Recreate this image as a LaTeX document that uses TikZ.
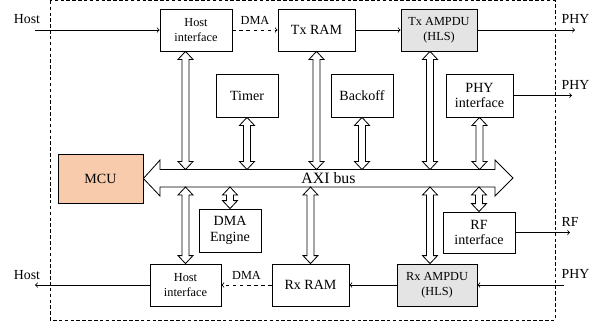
\documentclass[tikz,border=0pt]{standalone}
\usepackage{fontspec}
\setmainfont{Liberation Serif}
\usetikzlibrary{calc,positioning}

\newlength\pxl
\setlength\pxl{0.03cm}

\definecolor{mcuorange}{RGB}{248,203,173}
\definecolor{hlsgray}{RGB}{228,228,228}

\tikzset{
  blk/.style={draw, align=center, inner sep=1pt, minimum height=42\pxl,
    font=\fontsize{12}{13.5}\selectfont},
  smallblk/.style={blk, font=\fontsize{10.5}{12.8}\selectfont},
  hls/.style={smallblk, fill=hlsgray},
  lbl/.style={font=\fontsize{11.8}{13}\selectfont, inner sep=0pt},
  dmalbl/.style={font=\fontsize{10.5}{12}\selectfont, inner sep=0pt}
}

% hollow double arrow between a block and the bus
\newcommand{\busarrow}[2]{%
  \draw[fill=white] (#1) -- ($(#1)+(7.5,8)$) -- ($(#1)+(3.5,8)$)
    -- ($(#2)+(3.5,-8)$) -- ($(#2)+(7.5,-8)$) -- (#2)
    -- ($(#2)+(-7.5,-8)$) -- ($(#2)+(-3.5,-8)$)
    -- ($(#1)+(-3.5,8)$) -- ($(#1)+(-7.5,8)$) -- cycle;}

\begin{document}
\begin{tikzpicture}[x=0.03cm, y=-0.03cm, line width=0.7pt, >=To]

\useasboundingbox (0,0) rectangle (601,322);

% chip border
\draw[dash pattern=on 3pt off 2pt, line width=0.6pt] (50,0.8) rectangle (555,320);

% blocks
\node[smallblk, minimum width=72\pxl] (hifT) at (196,30) {Host\\interface};
\node[blk, minimum width=77\pxl] (txram) at (316.5,30) {Tx RAM};
\node[hls, minimum width=76\pxl] (txamp) at (439,30) {Tx AMPDU\\(HLS)};

\node[blk, minimum width=62\pxl, minimum height=43\pxl] (timer) at (247,95.5) {Timer};
\node[blk, minimum width=62\pxl, minimum height=43\pxl] (backoff) at (362,95.5) {Backoff};
\node[blk, minimum width=67\pxl, minimum height=43\pxl] (phyif) at (479.5,95.5) {PHY\\interface};

\node[blk, fill=mcuorange, minimum width=85\pxl, minimum height=49\pxl] (mcu) at (100.5,178.5) {MCU};

\node[blk, minimum width=62\pxl, minimum height=43\pxl] (dmaeng) at (230,230.5) {DMA\\Engine};
\node[blk, minimum width=72\pxl, minimum height=41\pxl] (rfif) at (479,232.5) {RF\\interface};

\node[smallblk, minimum width=71\pxl] (hifB) at (185.5,285) {Host\\interface};
\node[blk, minimum width=77\pxl] (rxram) at (310.5,285) {Rx RAM};
\node[hls, minimum width=80\pxl] (rxamp) at (437,285) {Rx AMPDU\\(HLS)};

% AXI bus
\draw[fill=white] (mcu.east) -- (160,160) -- (160,169.5) -- (495,169.5) -- (495,160)
  -- (513,178) -- (495,196) -- (495,187) -- (160,187) -- (160,196) -- cycle;
\node[font=\fontsize{13.5}{15}\selectfont, inner sep=0pt] (bus) at (328.5,178.5) {AXI bus};
\coordinate (busN) at (0,169.5);
\coordinate (busS) at (0,187);
\coordinate (ampx) at (430,0);

% bus connections
\busarrow{hifB.north |- hifT.south}{hifB.north |- busN}
\busarrow{timer.south}{timer.south |- busN}
\busarrow{txram.south}{txram.south |- busN}
\busarrow{backoff.south}{backoff.south |- busN}
\busarrow{ampx |- txamp.south}{ampx |- busN}
\busarrow{phyif.south}{phyif.south |- busN}
\busarrow{hifB.north |- busS}{hifB.north}
\busarrow{dmaeng.north |- busS}{dmaeng.north}
\busarrow{rxram.north |- busS}{rxram.north}
\busarrow{ampx |- busS}{ampx |- rxamp.north}
\busarrow{rfif.north |- busS}{rfif.north}

% outside labels
\node[lbl] (hostin) at (27,19) {Host};
\node[lbl] (phyout) at (575.5,19) {PHY};
\node[lbl] (phyifout) at (575.5,85) {PHY};
\node[lbl] (rfout) at (570,222) {RF};
\node[lbl] (phyin) at (575.5,273.5) {PHY};
\node[lbl] (hostout) at (27,275) {Host};

\coordinate (hin) at (35,30);
\coordinate (pout) at (575,30);
\coordinate (piout) at (572,95.5);
\coordinate (rout) at (570,232.5);
\coordinate (pin) at (564,285);
\coordinate (hout) at (35,285);

% data paths
\draw[->] (hin) -- (hifT.west);
\draw[->, dashed] (hifT.east) -- node[dmalbl, above=5\pxl] (dmaT) {DMA} (txram.west);
\draw[->] (txram.east) -- (txamp.west);
\draw[->] (txamp.east) -- (pout);
\draw[->] (phyif.east) -- (piout);
\draw[->] (rfif.east) -- (rout);
\draw[->] (pin) -- (rxamp.east);
\draw[->] (rxamp.west) -- (rxram.east);
\draw[->, dashed] (rxram.west) -- node[dmalbl, above=5\pxl] (dmaB) {DMA} (hifB.east);
\draw[->] (hifB.west) -- (hout);

\end{tikzpicture}
\end{document}
